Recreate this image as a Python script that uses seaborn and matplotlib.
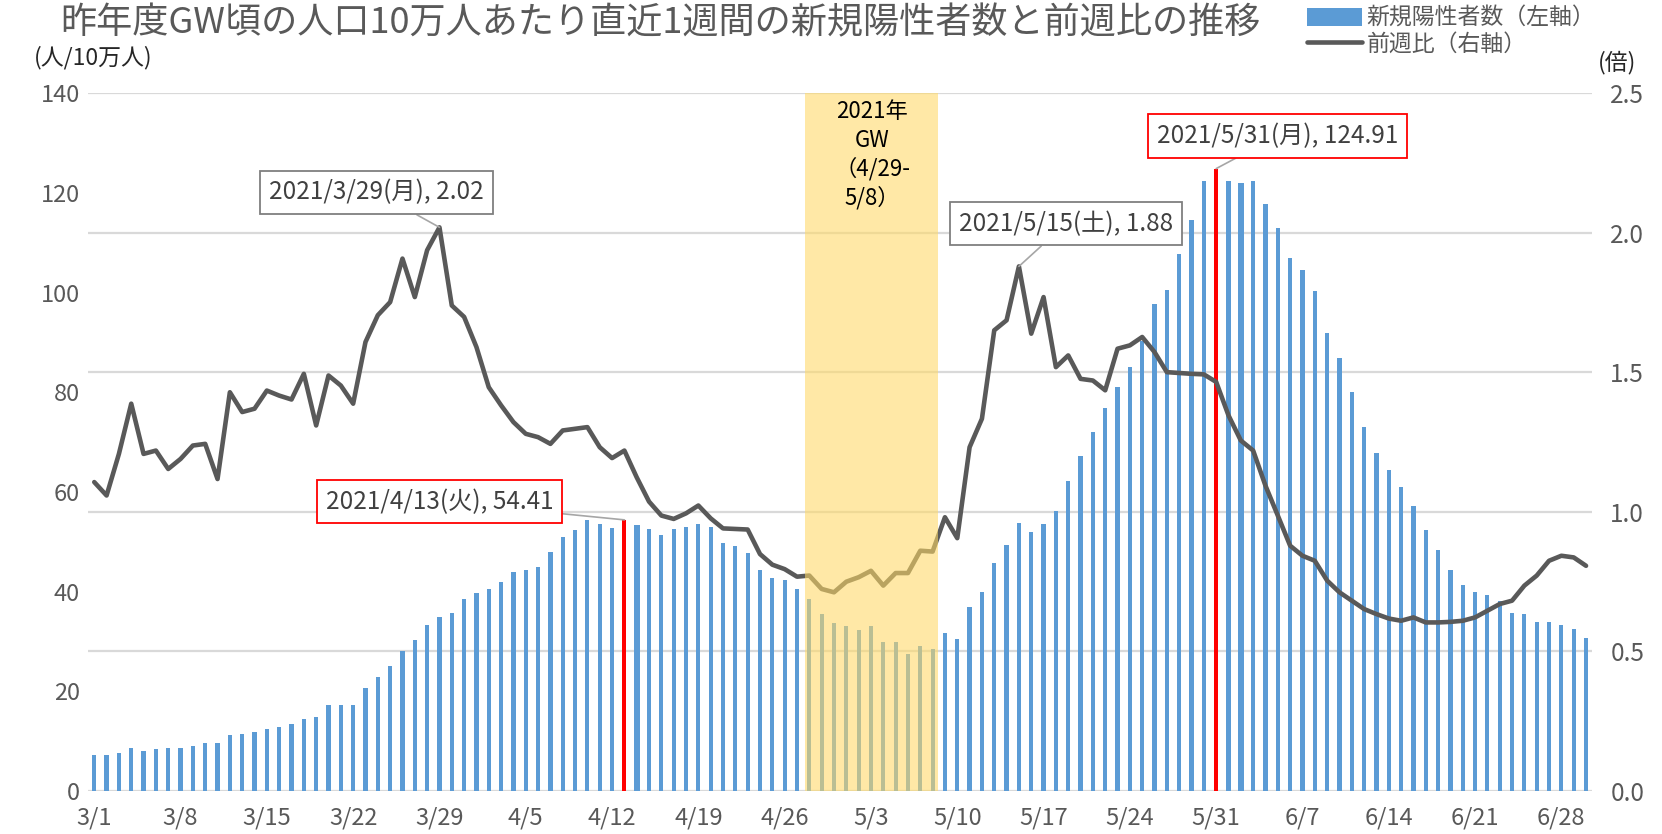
import numpy as np
import pandas as pd
import matplotlib
matplotlib.use("Agg")
import matplotlib.pyplot as plt
import seaborn as sns
from matplotlib.patches import Patch
from matplotlib.lines import Line2D

# daily data 2021/3/1 - 2021/6/30
dates = pd.date_range("2021-03-01", "2021-06-30", freq="D")

# new positives per 100k (last 7 days), left axis
cases = [
    7.3, 7.3, 7.7, 8.6, 8.0, 8.5, 8.7, 8.7, 9.0, 9.6, 9.7, 11.3, 11.5, 11.9, 12.5, 12.8,
    13.4, 14.4, 14.8, 17.2, 17.2, 17.3, 20.6, 22.8, 25.1, 28.1, 30.3, 33.3, 34.9, 35.7, 38.6,
    39.7, 40.6, 41.9, 43.9, 44.4, 45.0, 47.9, 51.0, 52.4, 54.3, 53.6, 52.7, 54.41, 53.3, 52.6,
    51.3, 52.6, 53.0, 53.6, 53.0, 49.8, 49.1, 47.8, 44.3, 42.7, 42.4, 40.5, 38.5, 35.5, 33.8,
    33.1, 32.4, 33.2, 29.8, 29.8, 27.5, 29.0, 28.4, 31.7, 30.4, 36.9, 39.9, 45.7, 49.3, 53.7,
    52.0, 53.5, 56.1, 62.3, 67.2, 72.1, 76.8, 81.1, 85.1, 90.3, 97.8, 100.6, 107.7, 114.5,
    122.4, 124.91,
    122.4, 122.1, 122.4, 117.9, 112.9, 107.0, 104.5, 100.3, 92.0, 86.9, 80.1, 73.1, 67.9,
    64.5, 61.1, 57.1, 52.4, 48.4, 44.3, 41.4, 40.0, 39.3, 38.1, 35.7, 35.5, 34.0, 34.0, 33.4,
    32.6, 30.6,
]

# week-over-week ratio, right axis
ratio = [
    1.107, 1.059, 1.208, 1.388, 1.208, 1.22, 1.154, 1.19, 1.238, 1.244, 1.118, 1.429, 1.358,
    1.37, 1.435, 1.417, 1.403, 1.495, 1.31, 1.489, 1.453, 1.388, 1.609, 1.705, 1.752, 1.908,
    1.77, 1.938, 2.02, 1.74, 1.699,
    1.591, 1.447, 1.382, 1.322, 1.28, 1.268, 1.244, 1.292, 1.298, 1.304, 1.232, 1.193, 1.22,
    1.124, 1.037, 0.987, 0.975, 0.995, 1.023, 0.977, 0.941, 0.939, 0.937, 0.849, 0.811, 0.795,
    0.768, 0.772, 0.724, 0.712,
    0.75, 0.766, 0.789, 0.736, 0.781, 0.781, 0.861, 0.858, 0.981, 0.906, 1.232, 1.334, 1.651,
    1.687, 1.88, 1.639, 1.77, 1.519, 1.561, 1.477, 1.471, 1.436, 1.585, 1.597, 1.627, 1.573,
    1.501, 1.498, 1.495, 1.493, 1.466,
    1.346, 1.256, 1.22, 1.094, 0.987, 0.879, 0.843, 0.825, 0.754, 0.712, 0.682, 0.652, 0.634,
    0.618, 0.61, 0.622, 0.604, 0.604, 0.606, 0.61, 0.622, 0.646, 0.67, 0.682, 0.736, 0.772,
    0.825, 0.843, 0.837, 0.807,
]

highlight_days = ["2021-04-13", "2021-05-31"]
gw_start, gw_end = "2021-04-28", "2021-05-08"

left_ticks = [0, 20, 40, 60, 80, 100, 120, 140]
right_ticks = [0.0, 0.5, 1.0, 1.5, 2.0, 2.5]

blue = "#5B9BD5"
grey = "#595959"

sns.set_style("white")
plt.rcParams["font.family"] = ["Noto Sans CJK JP", "DejaVu Sans"]

idx = np.arange(len(dates))
hl = dates.isin(pd.to_datetime(highlight_days))
df = pd.DataFrame({"i": idx, "cases": cases, "ratio": ratio, "hl": hl})

fig = plt.figure(figsize=(16.62, 8.34), dpi=100)
ax = fig.add_axes([0.053, 0.0516, 0.905, 0.8364])

# grid lines follow the right axis ticks
for t in right_ticks:
    ax.axhline(t * 56, color="#D9D9D9", lw=1.6, zorder=0)

sns.barplot(data=df, x="i", y="cases", hue="hl", palette={False: blue, True: "red"},
            dodge=False, native_scale=True, width=0.34, saturation=1, legend=False,
            ax=ax, zorder=2)
for p, h in zip(ax.patches, hl):
    p.set_linewidth(0)
    if h:
        p.set_width(0.46)
        p.set_x(p.get_x() - 0.06)

ax.set_xlim(-0.5, len(dates) - 0.5)
ax.set_ylim(0, 140)
ax.set_yticks(left_ticks)
ax.set_xticks(idx[::7])
ax.set_xticklabels([f"{d.month}/{d.day}" for d in dates[::7]])
ax.set_xlabel("")
ax.set_ylabel("")
ax.tick_params(axis="both", length=0, labelsize=17, labelcolor=grey)
ax.tick_params(axis="x", pad=11)
ax.tick_params(axis="y", pad=6)
sns.despine(ax=ax, left=True, bottom=True)

ax2 = ax.twinx()
sns.lineplot(data=df, x="i", y="ratio", color=grey, lw=3.3, ax=ax2, zorder=3)
ax2.set_ylim(0, 2.5)
ax2.set_yticks(right_ticks)
ax2.set_yticklabels([f"{t:.1f}" for t in right_ticks])
ax2.set_ylabel("")
ax2.set_xlabel("")
ax2.tick_params(axis="y", length=0, labelsize=17.5, labelcolor=grey, pad=13)
sns.despine(ax=ax2, left=True, bottom=True, right=True)

# GW shading
g0 = dates.get_loc(pd.Timestamp(gw_start))
g1 = dates.get_loc(pd.Timestamp(gw_end))
ax2.axvspan(g0 - 0.32, g1 + 0.46, color="#FFD966", alpha=0.58, lw=0, zorder=4)
ax2.text((g0 + g1) / 2 + 0.1, 2.475, "2021年\nGW\n（4/29-\n5/8）", ha="center", va="top",
         fontsize=16, color="black", linespacing=1.3, zorder=5)

# callouts
def callout(text, xy, xytext, edge):
    ax2.annotate(text, xy=xy, xytext=xytext, ha="center", va="center", fontsize=17.5,
                 color="#404040", zorder=6,
                 bbox=dict(boxstyle="square,pad=0.36", fc="white", ec=edge, lw=1.3),
                 arrowprops=dict(arrowstyle="-", color="#A6A6A6", lw=1.2,
                                 shrinkA=0, shrinkB=0))

i_329 = dates.get_loc(pd.Timestamp("2021-03-29"))
i_413 = dates.get_loc(pd.Timestamp("2021-04-13"))
i_515 = dates.get_loc(pd.Timestamp("2021-05-15"))
i_531 = dates.get_loc(pd.Timestamp("2021-05-31"))
callout("2021/3/29(月), 2.02", (i_329, ratio[i_329]), (22.9, 2.145), "#7F7F7F")
callout("2021/4/13(火), 54.41", (i_413, cases[i_413] / 56), (28.0, 1.037), "red")
callout("2021/5/15(土), 1.88", (i_515, ratio[i_515]), (78.8, 2.033), "#7F7F7F")
callout("2021/5/31(月), 124.91", (i_531, cases[i_531] / 56), (96.0, 2.348), "red")

# title, units, legend
fig.text(0.036, 0.972, "昨年度GW頃の人口10万人あたり直近1週間の新規陽性者数と前週比の推移",
         fontsize=26, color=grey, ha="left", va="center")
fig.text(0.056, 0.931, "(人/10万人)", fontsize=16.5, color="#262626", ha="center", va="center")
fig.text(0.973, 0.925, "(倍)", fontsize=16.5, color="#262626", ha="center", va="center")

handles = [Patch(facecolor=blue, edgecolor="none"), Line2D([0], [0], color=grey, lw=3.3)]
fig.legend(handles, ["新規陽性者数（左軸）", "前週比（右軸）"], loc="upper left",
           bbox_to_anchor=(0.778, 1.008), frameon=False, fontsize=16.5, labelcolor=grey,
           handlelength=2.4, handleheight=0.8, handletextpad=0.2, labelspacing=0.1,
           borderaxespad=0.2)

fig.savefig("out.png", dpi=100)
